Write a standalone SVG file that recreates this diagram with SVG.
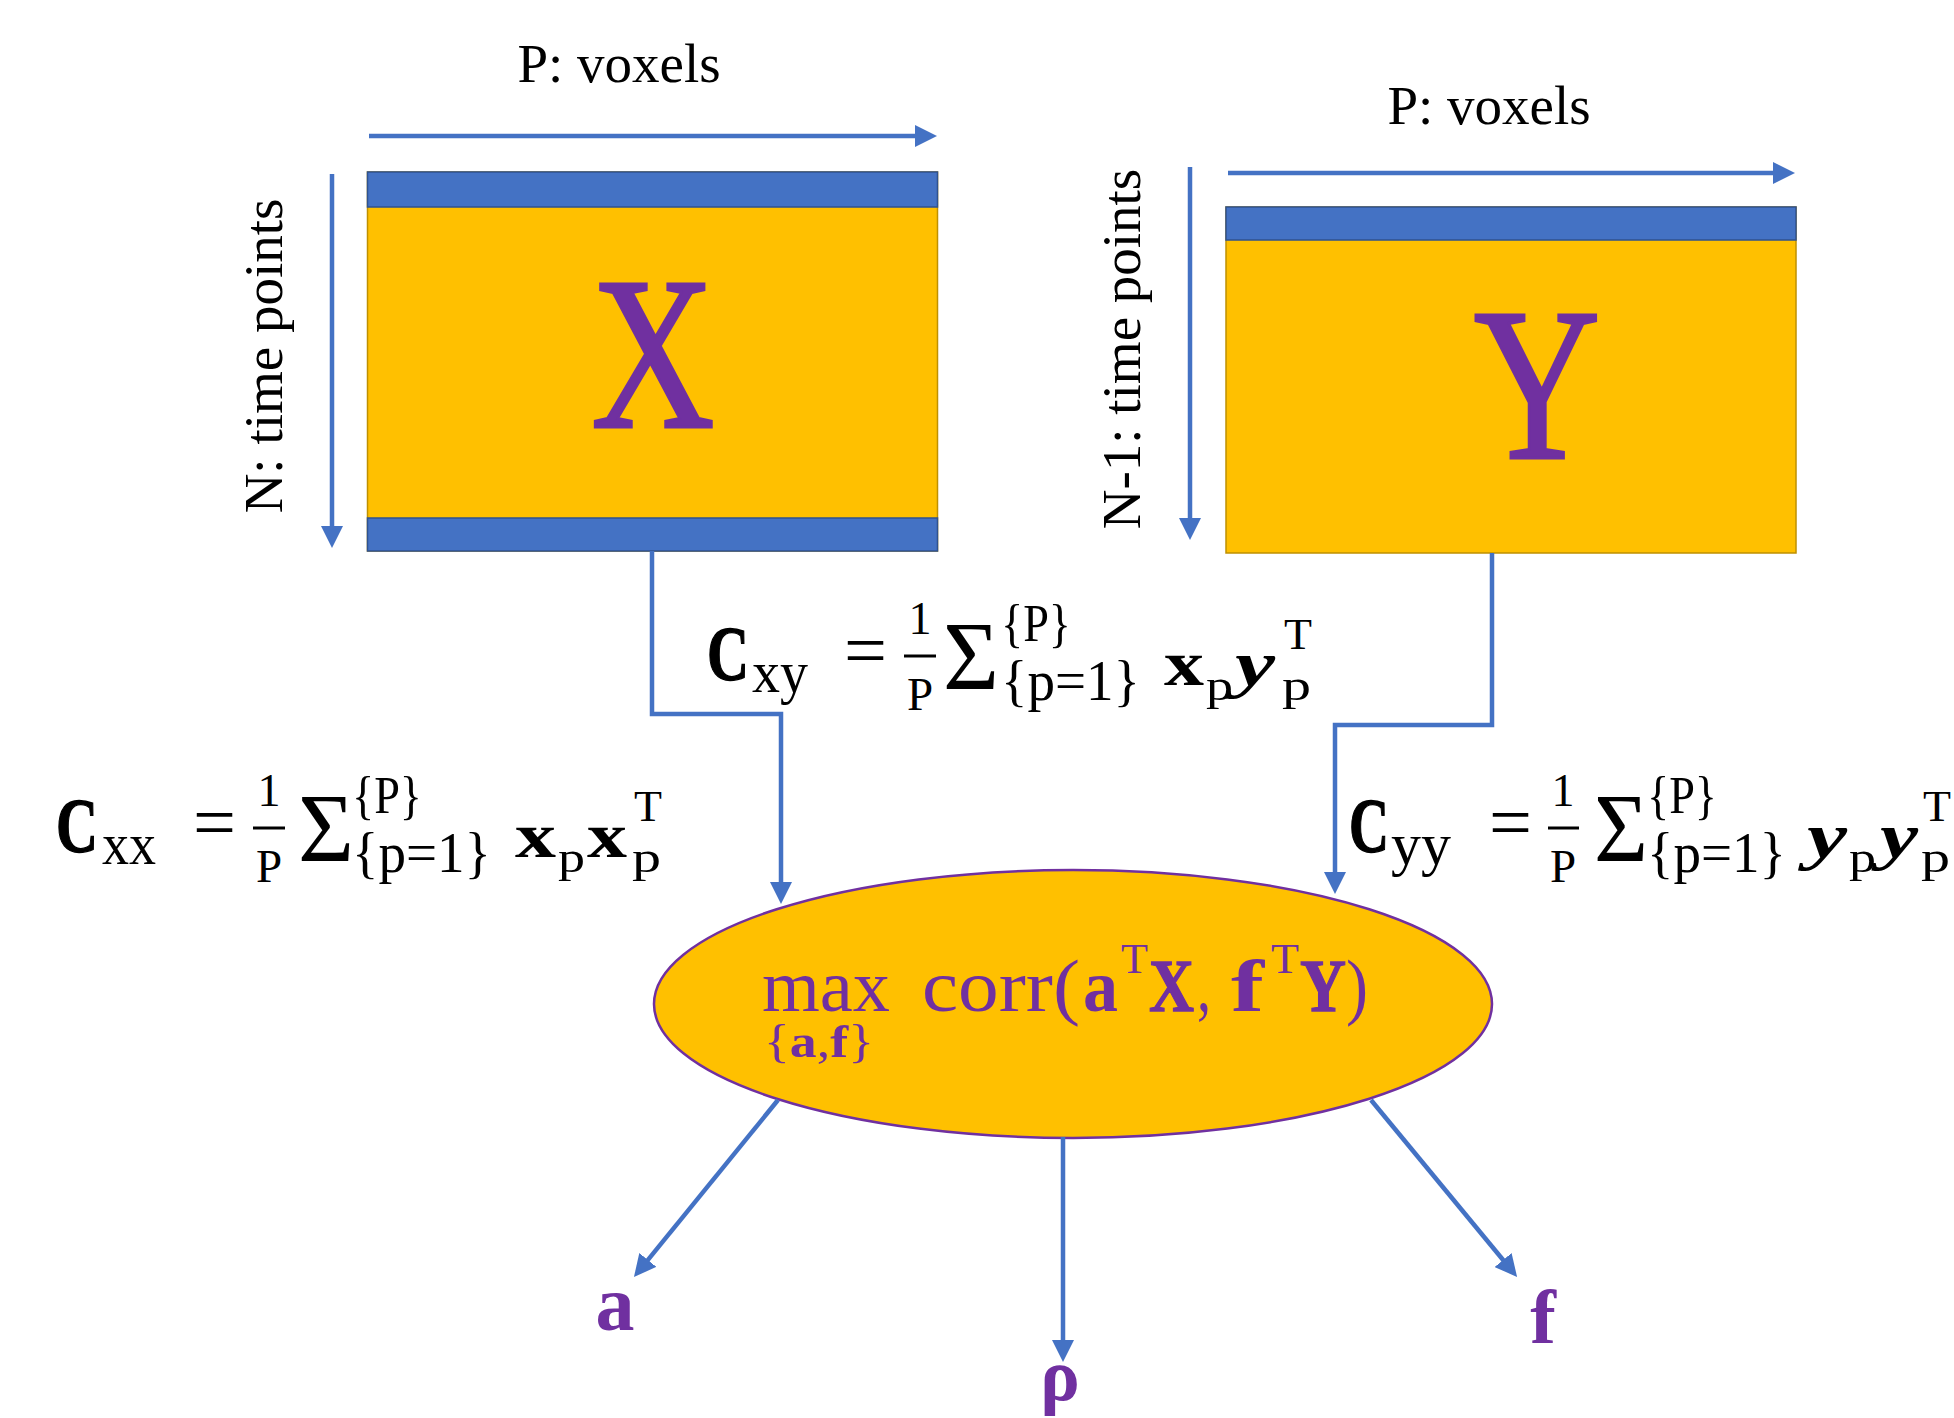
<svg xmlns="http://www.w3.org/2000/svg" width="1954" height="1418" viewBox="0 0 1954 1418">
<defs>
<style>
text{font-family:"Liberation Serif","Times New Roman",serif;fill:#000}
.b{font-weight:bold}
.i{font-style:italic}
.pur{fill:#7030A0}
.thk{stroke:#000;stroke-width:1.3}
.thp{stroke:#7030A0;stroke-width:1.3}
.conn{fill:none;stroke:#4472C4;stroke-width:4.5;marker-end:url(#ah)}
.yel{fill:#FFC000;stroke:#BF9000;stroke-width:1.5}
.blu{fill:#4472C4;stroke:#2F528F;stroke-width:1.5}
.lbl{font-size:55px}
.bar{stroke:#000;stroke-width:3}
</style>
<marker id="ah" viewBox="0 0 22 22" markerUnits="userSpaceOnUse" markerWidth="22" markerHeight="22" refX="14" refY="11" orient="auto">
<path d="M0,0 L22,11 L0,22 z" fill="#4472C4"/>
</marker>
</defs>
<rect width="1954" height="1418" fill="#fff"/>

<g id="matrixX">
<rect class="yel" x="367.5" y="172" width="570" height="379"/>
<rect class="blu" x="367.5" y="172" width="570" height="35"/>
<rect class="blu" x="367.5" y="518" width="570" height="33"/>
<text class="pur" x="0" y="427" font-size="219" text-anchor="middle" stroke="#7030A0" stroke-width="3" transform="translate(653 0) scale(0.78 1)">X</text>
</g>

<g id="matrixY">
<rect class="yel" x="1226" y="207" width="570" height="346"/>
<rect class="blu" x="1226" y="207" width="570" height="33"/>
<text class="pur" x="0" y="458" font-size="219" text-anchor="middle" stroke="#7030A0" stroke-width="3" transform="translate(1537 0) scale(0.8 1)">Y</text>
</g>

<g id="labels">
<text class="lbl" x="619" y="82" text-anchor="middle">P: voxels</text>
<text class="lbl" x="1489" y="124" text-anchor="middle">P: voxels</text>
<text class="lbl" transform="translate(282 356) rotate(-90)" text-anchor="middle">N: time points</text>
<text class="lbl" transform="translate(1140 349) rotate(-90)" text-anchor="middle">N-1: time points</text>
</g>

<g id="cca">
<ellipse cx="1073" cy="1004" rx="419" ry="134" fill="#FFC000" stroke="#7030A0" stroke-width="2.5"/>
<text class="pur" font-size="73"><tspan x="762" y="1011" textLength="128" lengthAdjust="spacingAndGlyphs">max</tspan><tspan x="922" y="1011" textLength="158" lengthAdjust="spacingAndGlyphs">corr(</tspan><tspan class="b" x="1083" y="1011" font-size="75" textLength="35" lengthAdjust="spacingAndGlyphs">a</tspan><tspan x="1121" y="973" font-size="42" textLength="27" lengthAdjust="spacingAndGlyphs">T</tspan><tspan class="b thp" x="1149" y="1011" font-size="75" textLength="45" lengthAdjust="spacingAndGlyphs">X</tspan><tspan x="1197" y="1011" textLength="14" lengthAdjust="spacingAndGlyphs">,</tspan><tspan class="b" x="1231" y="1011" font-size="75" textLength="33" lengthAdjust="spacingAndGlyphs">f</tspan><tspan x="1271" y="973" font-size="42" textLength="28" lengthAdjust="spacingAndGlyphs">T</tspan><tspan class="b thp" x="1300" y="1011" font-size="75" textLength="46" lengthAdjust="spacingAndGlyphs">Y</tspan><tspan x="1346" y="1011" textLength="22" lengthAdjust="spacingAndGlyphs">)</tspan><tspan x="764" y="1057" font-size="46" textLength="110" lengthAdjust="spacingAndGlyphs">{<tspan class="b">a</tspan>,<tspan class="b">f</tspan>}</tspan></text>
</g>

<g id="Cxy" transform="translate(707 680)">
<line class="bar" x1="197" y1="-24" x2="229" y2="-24"/>
<text><tspan class="b thk" x="0" y="0" font-size="78" textLength="42" lengthAdjust="spacingAndGlyphs">C</tspan><tspan x="45" y="12" font-size="60" textLength="56" lengthAdjust="spacingAndGlyphs">xy</tspan><tspan x="137" y="-4" font-size="76" textLength="43" lengthAdjust="spacingAndGlyphs">=</tspan><tspan x="201.5" y="-46" font-size="46">1</tspan><tspan x="200" y="30" font-size="47">P</tspan><tspan x="236" y="9" font-size="97" textLength="56" lengthAdjust="spacingAndGlyphs">Σ</tspan><tspan x="294" y="-39" font-size="52" textLength="70" lengthAdjust="spacingAndGlyphs">{P}</tspan><tspan x="294" y="20" font-size="56" textLength="139" lengthAdjust="spacingAndGlyphs">{p=1}</tspan><tspan class="b" x="457" y="5" font-size="64" textLength="40" lengthAdjust="spacingAndGlyphs">x</tspan><tspan x="499" y="20" font-size="44" textLength="27" lengthAdjust="spacingAndGlyphs">p</tspan><tspan class="b i" x="528" y="5" font-size="64" textLength="40" lengthAdjust="spacingAndGlyphs">y</tspan><tspan x="577" y="-31" font-size="44" textLength="28" lengthAdjust="spacingAndGlyphs">T</tspan><tspan x="575" y="20" font-size="44" textLength="29" lengthAdjust="spacingAndGlyphs">p</tspan></text>
</g>

<g id="Cxx" transform="translate(56 852)">
<line class="bar" x1="197" y1="-24" x2="229" y2="-24"/>
<text><tspan class="b thk" x="0" y="0" font-size="78" textLength="42" lengthAdjust="spacingAndGlyphs">C</tspan><tspan x="46" y="12" font-size="60" textLength="54" lengthAdjust="spacingAndGlyphs">xx</tspan><tspan x="137" y="-4" font-size="76" textLength="43" lengthAdjust="spacingAndGlyphs">=</tspan><tspan x="201.5" y="-46" font-size="46">1</tspan><tspan x="200" y="30" font-size="47">P</tspan><tspan x="242" y="9" font-size="97" textLength="56" lengthAdjust="spacingAndGlyphs">Σ</tspan><tspan x="296" y="-39" font-size="52" textLength="70" lengthAdjust="spacingAndGlyphs">{P}</tspan><tspan x="296" y="20" font-size="56" textLength="139" lengthAdjust="spacingAndGlyphs">{p=1}</tspan><tspan class="b" x="459" y="5" font-size="64" textLength="41" lengthAdjust="spacingAndGlyphs">x</tspan><tspan x="502" y="20" font-size="44" textLength="27" lengthAdjust="spacingAndGlyphs">p</tspan><tspan class="b" x="531" y="5" font-size="64" textLength="40" lengthAdjust="spacingAndGlyphs">x</tspan><tspan x="578" y="-31" font-size="44" textLength="28" lengthAdjust="spacingAndGlyphs">T</tspan><tspan x="576" y="20" font-size="44" textLength="29" lengthAdjust="spacingAndGlyphs">p</tspan></text>
</g>

<g id="Cyy" transform="translate(1349 852)">
<line class="bar" x1="199" y1="-24" x2="230" y2="-24"/>
<text><tspan class="b thk" x="0" y="0" font-size="78" textLength="40" lengthAdjust="spacingAndGlyphs">C</tspan><tspan x="42" y="12" font-size="60" textLength="60" lengthAdjust="spacingAndGlyphs">yy</tspan><tspan x="140" y="-4" font-size="76" textLength="43" lengthAdjust="spacingAndGlyphs">=</tspan><tspan x="202.5" y="-46" font-size="46">1</tspan><tspan x="201" y="30" font-size="47">P</tspan><tspan x="245" y="9" font-size="97" textLength="54" lengthAdjust="spacingAndGlyphs">Σ</tspan><tspan x="298" y="-39" font-size="52" textLength="70" lengthAdjust="spacingAndGlyphs">{P}</tspan><tspan x="298" y="20" font-size="56" textLength="139" lengthAdjust="spacingAndGlyphs">{p=1}</tspan><tspan class="b i" x="458" y="5" font-size="64" textLength="40" lengthAdjust="spacingAndGlyphs">y</tspan><tspan x="500" y="20" font-size="44" textLength="27" lengthAdjust="spacingAndGlyphs">p</tspan><tspan class="b i" x="531" y="5" font-size="64" textLength="38" lengthAdjust="spacingAndGlyphs">y</tspan><tspan x="574" y="-31" font-size="44" textLength="28" lengthAdjust="spacingAndGlyphs">T</tspan><tspan x="572" y="20" font-size="44" textLength="29" lengthAdjust="spacingAndGlyphs">p</tspan></text>
</g>

<g id="outA"><text class="pur b" x="615" y="1330" font-size="78" text-anchor="middle">a</text></g>
<g id="outRho"><text class="pur b" x="1060" y="1400" font-size="74" text-anchor="middle">ρ</text></g>
<g id="outF"><text class="pur b" x="1543" y="1343" font-size="77" text-anchor="middle">f</text></g>

<g id="connectors">
<path class="conn" d="M369,136 H929"/>
<path class="conn" d="M332,174 V540"/>
<path class="conn" d="M1228,173 H1787"/>
<path class="conn" d="M1190,167 V532"/>
<path class="conn" d="M652,551 V714 H781 V896"/>
<path class="conn" d="M1492,553 V725 H1335 V886"/>
<path class="conn" d="M778,1100 L639,1270.8"/>
<path class="conn" d="M1063,1137 V1354"/>
<path class="conn" d="M1371,1100 L1512,1270.8"/>
</g>
</svg>
